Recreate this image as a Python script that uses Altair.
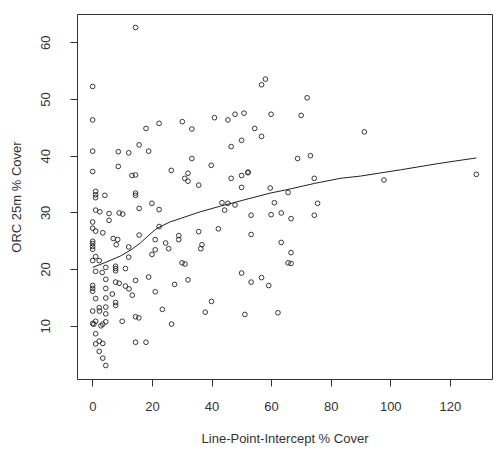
import altair as alt
import pandas as pd

lpi = [
    14.5, 0.1, 0.1, 41.0, 18.0, 22.4, 30.2, 33.4, 0.1, 8.7, 12.2, 15.7, 18.9, 33.4, 39.9,
    0.1, 8.7, 13.3, 14.5, 26.5, 32.1, 31.0, 32.1, 35.7,
    58.1, 56.8, 72.1, 45.5, 47.9, 50.9, 60.0, 70.1, 54.5, 56.8, 46.6, 50.1, 68.9, 73.2,
    46.6, 50.1, 52.2, 52.3, 50.1, 59.7, 74.5, 65.7, 91.3, 97.9, 128.9,
    43.5, 45.5, 47.9, 44.4, 61.1, 75.6, 53.3, 60.0, 63.4, 66.7, 74.5, 42.3, 35.7, 53.3,
    36.8, 36.4, 63.4, 66.7, 65.7, 66.7, 50.1, 53.3, 56.8, 59.2, 40.0, 37.9, 51.2, 62.3,
    1.1, 1.1, 1.1, 4.2, 14.5, 14.5, 1.1, 2.5, 5.6, 5.6, 9.0, 10.2, 15.7, 20.0, 22.4,
    0.1, 0.1, 1.1, 3.5, 7.0, 8.5, 8.0, 15.7, 22.4, 0.1, 0.1, 0.1, 0.1, 12.2, 21.1,
    29.0, 29.0, 24.6, 25.6, 21.1, 20.0, 12.2, 1.1, 0.1, 2.3,
    1.1, 3.3, 4.5, 7.8, 7.8, 7.8, 11.1, 4.5, 7.8, 9.0, 11.1, 12.3, 13.4, 14.5, 18.9,
    21.1, 27.6, 32.1, 30.1, 31.1, 0.1, 0.1, 0.1, 1.1, 4.5, 4.5, 6.7, 0.1, 2.3, 2.4,
    4.5, 4.5, 7.8, 7.8, 0.1, 0.5, 1.1, 2.9, 3.5, 4.5, 10.0, 14.5, 15.6, 23.5, 26.6,
    1.1, 1.1, 2.3, 3.5, 2.3, 3.5, 4.5, 14.5, 18.0,
]
orc = [
    62.6, 52.2, 46.3, 46.7, 44.8, 45.7, 46.0, 44.7, 40.8, 40.7, 40.5, 41.9, 40.8, 39.5, 38.3,
    37.2, 38.1, 36.5, 36.6, 37.4, 36.9, 36.0, 35.5, 34.8,
    53.5, 52.5, 50.2, 46.3, 47.3, 47.5, 47.3, 47.1, 44.8, 43.4, 41.6, 42.7, 39.5, 40.0,
    36.0, 36.5, 37.0, 37.1, 34.4, 34.3, 36.0, 33.5, 44.2, 35.7, 36.7,
    31.7, 31.6, 31.3, 30.4, 31.7, 31.6, 29.5, 29.6, 29.9, 28.9, 29.5, 27.1, 26.6, 26.1,
    24.3, 23.6, 24.7, 22.9, 21.1, 21.0, 19.3, 17.7, 18.5, 17.1, 14.3, 12.4, 12.0, 12.3,
    33.7, 33.1, 32.6, 33.0, 33.4, 33.0, 30.4, 30.1, 29.8, 28.6, 29.9, 29.7, 30.7, 31.6, 30.5,
    28.3, 27.2, 26.7, 26.4, 25.4, 25.2, 24.3, 26.0, 27.5, 24.9, 24.5, 24.0, 23.5, 23.9, 25.2,
    25.9, 25.2, 24.6, 23.6, 23.4, 22.6, 22.1, 22.2, 21.5, 21.5,
    19.6, 19.4, 20.3, 20.5, 20.1, 19.7, 20.1, 18.2, 17.7, 17.5, 17.0, 16.5, 15.4, 18.0, 18.6,
    16.0, 17.3, 18.1, 21.1, 20.9, 17.1, 16.6, 16.1, 14.8, 16.6, 14.9, 15.6, 12.6, 13.2, 12.6,
    13.3, 12.1, 14.1, 13.6, 10.4, 10.3, 10.8, 10.0, 10.3, 10.7, 10.8, 11.6, 11.4, 12.9, 10.3,
    8.6, 6.8, 7.3, 6.9, 5.5, 4.3, 3.0, 7.1, 7.1,
]

# smooth (lowess) curve
smooth_x = [0.1, 4.5, 9.4, 13.0, 16.1, 19.0, 21.7, 26.0, 30.0, 36.2, 43.0, 52.4, 59.7, 65.3, 74.5, 83.2, 90.0, 103.4, 116.0, 128.9]
smooth_y = [20.3, 21.2, 22.3, 23.4, 24.6, 26.0, 27.2, 28.3, 29.0, 30.1, 31.1, 32.4, 33.4, 34.0, 35.1, 36.0, 36.4, 37.5, 38.6, 39.6]

pts = pd.DataFrame({"lpi": lpi, "orc": orc})
smooth = pd.DataFrame({"lpi": smooth_x, "orc": smooth_y})

FONT = "Liberation Sans"
TXT = "#333333"

xscale = alt.Scale(domain=[-5.16, 134.16], nice=False, zero=False)
yscale = alt.Scale(domain=[0.62, 64.98], nice=False, zero=False)

xaxis = alt.Axis(
    values=[0, 20, 40, 60, 80, 100, 120], title="Line-Point-Intercept % Cover",
    domain=False, grid=False, tickSize=7, tickColor=TXT, tickWidth=1,
    labelFont=FONT, labelFontSize=13, labelColor=TXT, labelPadding=14,
    titleFont=FONT, titleFontSize=13, titleFontWeight="normal", titleColor=TXT, titlePadding=19,
)
yaxis = alt.Axis(
    values=[10, 20, 30, 40, 50, 60], title="ORC 25m % Cover",
    domain=False, grid=False, tickSize=7, tickColor=TXT, tickWidth=1,
    labelFont=FONT, labelFontSize=13, labelColor=TXT, labelPadding=18,
    labelAngle=270, labelAlign="center", labelBaseline="bottom",
    titleFont=FONT, titleFontSize=13, titleFontWeight="normal", titleColor=TXT, titlePadding=16,
)

points = alt.Chart(pts).mark_point(
    shape="circle", filled=False, size=22, strokeWidth=0.9, color="#222222", opacity=1
).encode(
    x=alt.X("lpi:Q", scale=xscale, axis=xaxis),
    y=alt.Y("orc:Q", scale=yscale, axis=yaxis),
)

line = alt.Chart(smooth).mark_line(color="#222222", strokeWidth=1).encode(
    x=alt.X("lpi:Q", scale=xscale),
    y=alt.Y("orc:Q", scale=yscale),
)

chart = alt.layer(points, line).properties(
    width=415, height=365,
    autosize=alt.AutoSizeParams(type="none"),
    padding={"left": 77, "top": 14, "right": 6, "bottom": 77},
    background="white",
).configure_view(stroke="#333333", strokeWidth=1)

chart.save("out.html", embed_options={"renderer": "svg", "actions": False})
